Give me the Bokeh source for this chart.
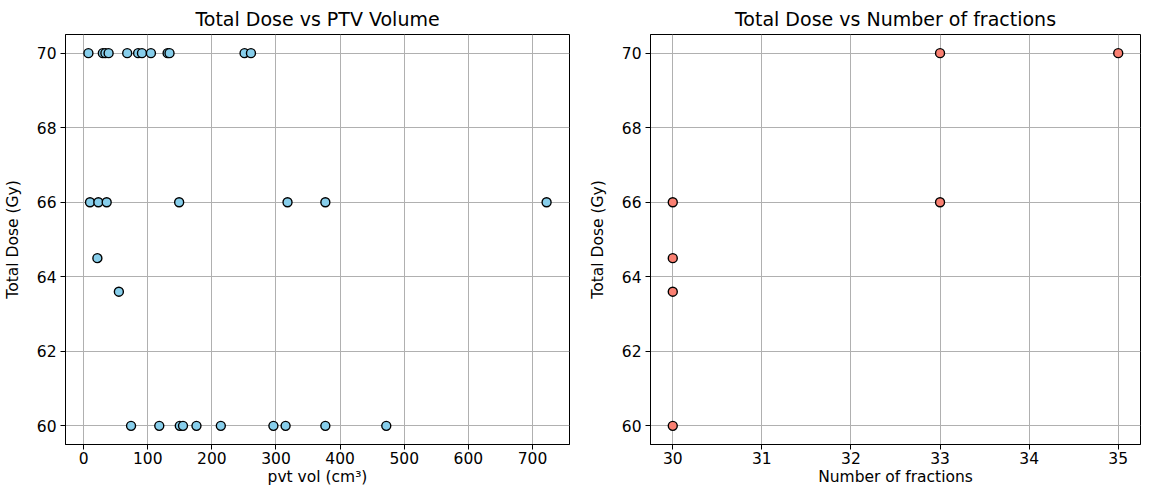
from bokeh.plotting import figure
from bokeh.layouts import row
from bokeh.models import Range1d, FixedTicker
from bokeh.embed import file_html
from bokeh.resources import INLINE

# ---- data ----
ptv_volume = [7.5, 30, 34, 39, 68, 85, 91, 105, 131, 134, 251, 261,
              10, 23, 36, 149, 318, 377, 722,
              21.5, 55,
              74, 118, 150, 155, 176, 214, 296, 315, 377, 472]
ptv_dose = [70, 70, 70, 70, 70, 70, 70, 70, 70, 70, 70, 70,
            66, 66, 66, 66, 66, 66, 66,
            64.5, 63.6,
            60, 60, 60, 60, 60, 60, 60, 60, 60, 60]

fractions = [30, 30, 30, 30, 33, 33, 35]
fraction_dose = [60, 63.6, 64.5, 66, 66, 70, 70]

vol_ticks = [0, 100, 200, 300, 400, 500, 600, 700]
frac_ticks = [30, 31, 32, 33, 34, 35]
dose_ticks = [60, 62, 64, 66, 68, 70]

FONT = "DejaVu Sans"


def padded(vals, frac=0.05):
    lo, hi = min(vals), max(vals)
    s = hi - lo
    return Range1d(lo - frac * s, hi + frac * s)


def style(p, xticks, yticks, xlabel, ylabel):
    p.title.text_font = FONT
    p.title.text_font_size = "19px"
    p.title.text_font_style = "normal"
    p.title.align = "center"
    p.title.text_color = "black"
    p.outline_line_color = "black"
    p.outline_line_width = 1
    p.xaxis.ticker = FixedTicker(ticks=xticks)
    p.yaxis.ticker = FixedTicker(ticks=yticks)
    p.xgrid.ticker = FixedTicker(ticks=xticks)
    p.ygrid.ticker = FixedTicker(ticks=yticks)
    for g in (p.xgrid, p.ygrid):
        g.grid_line_color = "#b0b0b0"
        g.grid_line_width = 1
    p.xaxis.axis_label = xlabel
    p.yaxis.axis_label = ylabel
    for ax in (p.xaxis, p.yaxis):
        ax.axis_label_text_font = FONT
        ax.axis_label_text_font_size = "15.5px"
        ax.axis_label_text_font_style = "normal"
        ax.axis_label_text_color = "black"
        ax.major_label_text_font = FONT
        ax.major_label_text_font_size = "15.5px"
        ax.major_label_text_color = "black"
        ax.major_tick_out = 5
        ax.major_tick_in = 0
        ax.minor_tick_out = 0
        ax.minor_tick_in = 0
        ax.axis_line_color = "black"
        ax.major_tick_line_color = "black"
    p.xaxis.major_label_standoff = 2
    p.xaxis.axis_label_standoff = 1
    p.yaxis.major_label_standoff = 4
    p.yaxis.axis_label_standoff = 12


p1 = figure(width=585, height=488, title="Total Dose vs PTV Volume",
            x_range=padded(ptv_volume), y_range=padded(ptv_dose),
            output_backend="svg", toolbar_location=None,
            min_border_left=60, min_border_right=16,
            min_border_top=25, min_border_bottom=39)
style(p1, vol_ticks, dose_ticks, "pvt vol (cm\u00b3)", "Total Dose (Gy)")
p1.scatter(ptv_volume, ptv_dose, size=9, fill_color="#87CEEB",
           line_color="black", line_width=1.4)

p2 = figure(width=556, height=488, title="Total Dose vs Number of fractions",
            x_range=padded(fractions), y_range=padded(fraction_dose),
            output_backend="svg", toolbar_location=None,
            min_border_left=57, min_border_right=1,
            min_border_top=25, min_border_bottom=39)
style(p2, frac_ticks, dose_ticks, "Number of fractions", "Total Dose (Gy)")
p2.scatter(fractions, fraction_dose, size=9, fill_color="#FA8072",
           line_color="black", line_width=1.4)

layout = row(p1, p2)
open("out.html", "w").write(file_html(layout, INLINE))
